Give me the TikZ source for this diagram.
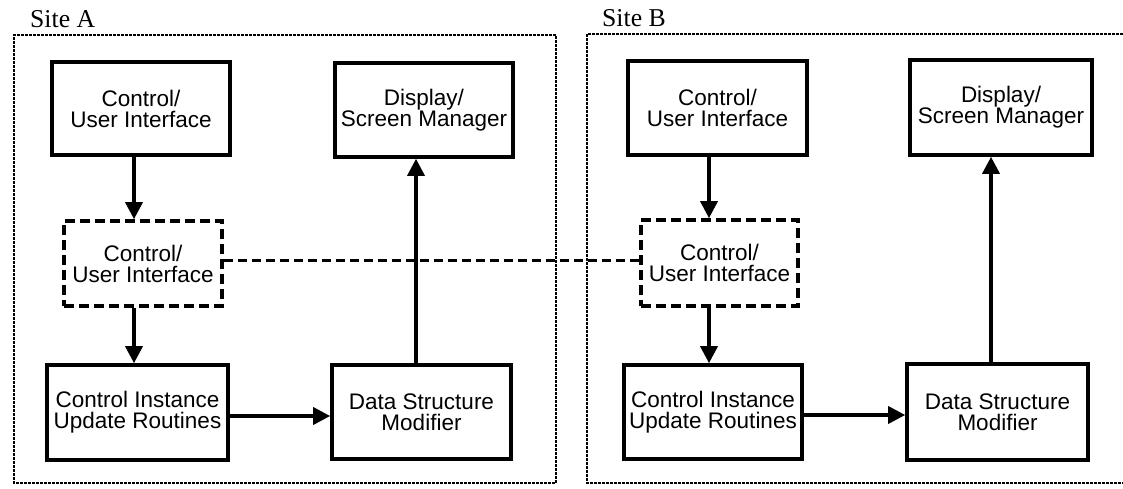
\documentclass[tikz,border=0pt]{standalone}
\usepackage{fontspec}
\setmainfont{Liberation Sans}
\newfontfamily\labelfont{Liberation Serif}
\usetikzlibrary{arrows.meta}
\tikzset{
  blk/.style={draw, line width=3.6pt, rectangle, align=center, inner sep=0pt,
    font=\fontsize{22.5}{21}\selectfont},
  dblk/.style={blk, dash pattern=on 10pt off 5pt},
  arr/.style={line width=3.4pt, -{Triangle[length=17pt,width=17pt]}},
  link/.style={line width=3pt, dash pattern=on 9pt off 5pt},
  frame/.style={line width=1.5pt, dash pattern=on 3pt off 1pt},
  sitelbl/.style={anchor=base west, inner sep=0pt, font=\labelfont\fontsize{25.7}{28}\selectfont}
}
\begin{document}
\begin{tikzpicture}[x=1pt,y=-1pt]
\useasboundingbox (0,0) rectangle (1123,489);
% frames
\draw[frame] (556,35) -- (14,35) -- (14,483) -- (556,483) -- cycle;
\draw[frame] (1123,34) -- (587,34) -- (587,483) -- (1123,483);
\node[sitelbl] (sa) at (30,28) {Site A};
\node[sitelbl] (sb) at (602,27) {Site B};
% Site A
\node[blk, minimum width=178pt, minimum height=93pt] (a1) at (141,108.5) {Control/\\User Interface};
\node[blk, minimum width=178pt, minimum height=94pt] (a2) at (424,110) {Display/\\Screen Manager};
\node[dblk, minimum width=158pt, minimum height=85pt] (ad) at (143,263.5) {Control/\\User Interface};
\node[blk, minimum width=181pt, minimum height=95pt] (a3) at (137.5,412.5) {Control Instance\\Update Routines};
\node[blk, minimum width=179pt, minimum height=94pt] (a4) at (421.5,412) {Data Structure\\Modifier};
% Site B
\node[blk, minimum width=179pt, minimum height=94pt] (b1) at (717.5,108) {Control/\\User Interface};
\node[blk, minimum width=182pt, minimum height=95pt] (b2) at (1001,107.5) {Display/\\Screen Manager};
\node[dblk, minimum width=157pt, minimum height=86pt] (bd) at (719.5,263) {Control/\\User Interface};
\node[blk, minimum width=178pt, minimum height=94pt] (b3) at (713,412) {Control Instance\\Update Routines};
\node[blk, minimum width=181pt, minimum height=96pt] (b4) at (997.5,412) {Data Structure\\Modifier};
% guide coordinates
\coordinate (ax) at (134,0);
\coordinate (bx) at (709,0);
\coordinate (aux) at (416,0);
\coordinate (bux) at (991,0);
\coordinate (ay) at (0,416);
\coordinate (by) at (0,415);
\coordinate (ly) at (0,260);
% connectors A
\draw[arr] (a1.south -| ax) -- (ad.north -| ax);
\draw[arr] (ad.south -| ax) -- (a3.north -| ax);
\draw[arr] (a3.east |- ay) -- (a4.west |- ay);
\draw[arr] (a4.north -| aux) -- (a2.south -| aux);
% connectors B
\draw[arr] (b1.south -| bx) -- (bd.north -| bx);
\draw[arr] (bd.south -| bx) -- (b3.north -| bx);
\draw[arr] (b3.east |- by) -- (b4.west |- by);
\draw[arr] (b4.north -| bux) -- (b2.south -| bux);
% link
\draw[link] (ad.east |- ly) -- (bd.west |- ly);
\end{tikzpicture}
\end{document}
